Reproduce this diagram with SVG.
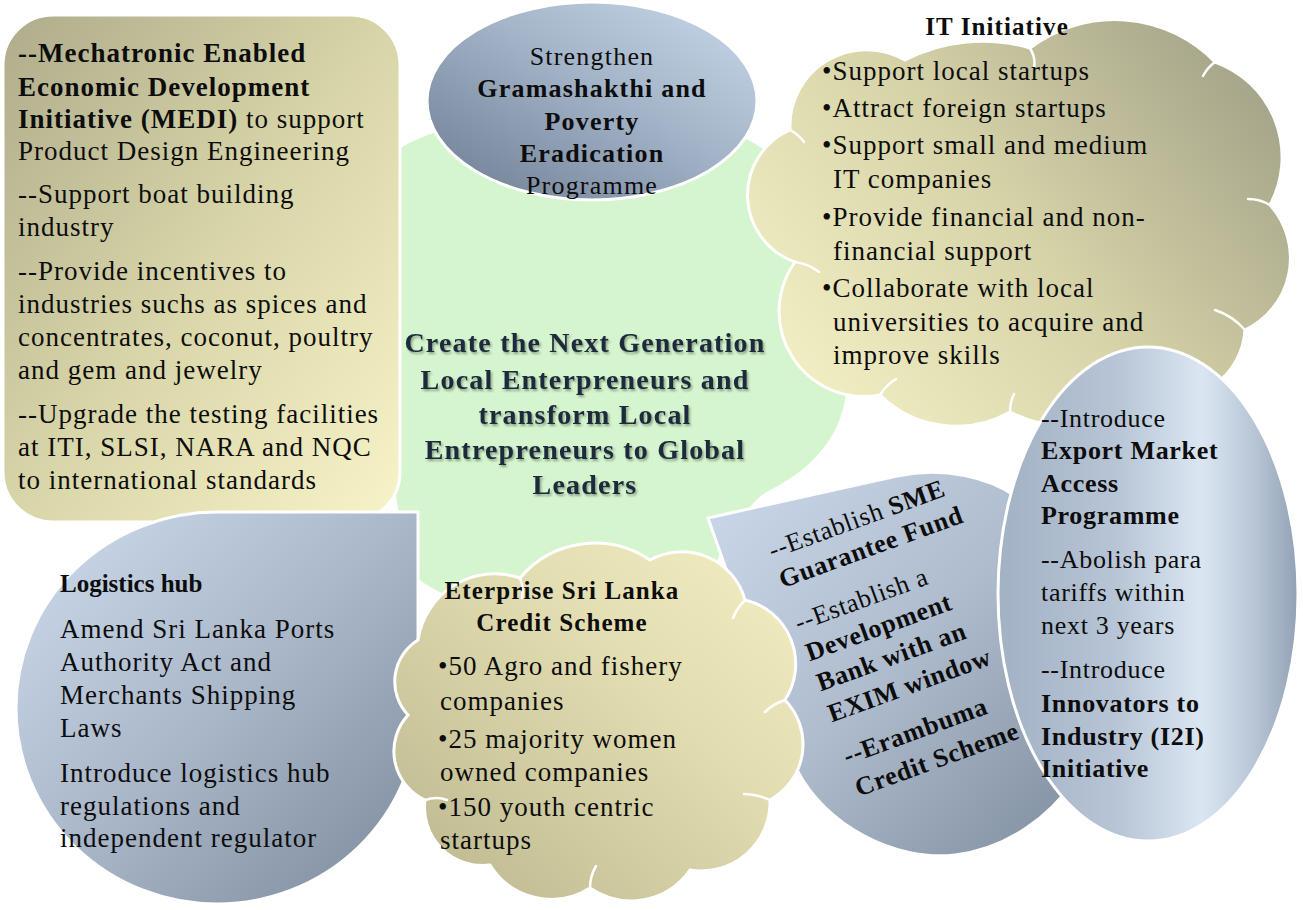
<svg xmlns="http://www.w3.org/2000/svg" width="1303" height="910" viewBox="0 0 1303 910">
<defs>
<linearGradient id="gYel" x1="0" y1="0" x2="1" y2="1">
<stop offset="0" stop-color="#aeac8b"/>
<stop offset="0.5" stop-color="#d8d5a8"/>
<stop offset="1" stop-color="#f8f4c9"/>
</linearGradient>
<linearGradient id="gTopEll" x1="0" y1="1" x2="1" y2="0">
<stop offset="0" stop-color="#6c7b8f"/>
<stop offset="0.55" stop-color="#a3b4c8"/>
<stop offset="1" stop-color="#c9d9ea"/>
</linearGradient>
<linearGradient id="gIT" x1="0" y1="0.8" x2="1" y2="0.2">
<stop offset="0" stop-color="#f4f0c5"/>
<stop offset="0.5" stop-color="#d6d3a8"/>
<stop offset="1" stop-color="#a3a288"/>
</linearGradient>
<linearGradient id="gLog" x1="0" y1="0" x2="1" y2="1">
<stop offset="0" stop-color="#cfdcee"/>
<stop offset="0.5" stop-color="#a9b7c9"/>
<stop offset="1" stop-color="#7b899b"/>
</linearGradient>
<linearGradient id="gEnt" x1="0" y1="1" x2="1" y2="0">
<stop offset="0" stop-color="#b9b48c"/>
<stop offset="0.6" stop-color="#e2ddb0"/>
<stop offset="1" stop-color="#f4efc2"/>
</linearGradient>
<linearGradient id="gSME" x1="0" y1="0" x2="1" y2="1">
<stop offset="0" stop-color="#cbd9ea"/>
<stop offset="0.5" stop-color="#aebccd"/>
<stop offset="1" stop-color="#7f8da0"/>
</linearGradient>
<linearGradient id="gExp" x1="0" y1="0" x2="1" y2="0">
<stop offset="0" stop-color="#a2b1c4"/>
<stop offset="0.4" stop-color="#b7c5d6"/>
<stop offset="0.68" stop-color="#dbe6f2"/>
<stop offset="0.86" stop-color="#b6c4d4"/>
<stop offset="1" stop-color="#92a1b5"/>
</linearGradient>
<filter id="shadow" x="-5%" y="-10%" width="115%" height="130%">
<feDropShadow dx="1.5" dy="2" stdDeviation="1.3" flood-color="#000" flood-opacity="0.35"/>
</filter>
</defs>
<style>
.shape { stroke: #ffffff; stroke-width: 3; }
.inner { fill: none; stroke: #ffffff; stroke-width: 2.5; stroke-linecap: round; }
.t { font-family: 'Liberation Serif', 'Times New Roman', serif; font-size: 27px; letter-spacing: 1px; fill: #0d0d0d; }
.s26 { font-size: 26px; letter-spacing: 0.7px; }
.ell { font-size: 26px; letter-spacing: 1.2px; }
.ent { font-size: 27px; letter-spacing: 1px; }
.ttl { font-size: 25px; letter-spacing: 1.1px; }
.lg { font-size: 25px; letter-spacing: 0px; }
.b { font-weight: bold; }
.mid { text-anchor: middle; }
.center { font-family: 'Liberation Serif', 'Times New Roman', serif; font-size: 28px; font-weight: bold; letter-spacing: 1.2px; fill: #1c2a3a; text-anchor: middle; }
</style>
<rect width="1303" height="910" fill="#ffffff"/>

<g id="center">
<path d="M398,150 C470,100 720,95 775,160 C830,225 855,330 845,400 C838,440 810,470 770,490 C740,505 720,560 700,590 C640,640 470,620 420,580 C380,540 380,200 398,150 Z" fill="#d4f5cd"/>
<g filter="url(#shadow)">
<text class="center" x="585" y="352">Create the Next Generation</text>
<text class="center" x="585" y="389">Local Enterpreneurs and</text>
<text class="center" x="585" y="424">transform Local</text>
<text class="center" x="585" y="459">Entrepreneurs to Global</text>
<text class="center" x="585" y="494">Leaders</text>
</g>
</g>

<g id="connectors"></g>

<g id="medi">
<rect class="shape" x="3" y="15" width="397" height="507" rx="50" ry="50" fill="url(#gYel)"/>
<text class="t b" x="18" y="62">--Mechatronic Enabled</text>
<text class="t b" x="18" y="96">Economic Development</text>
<text class="t" x="18" y="128"><tspan class="b">Initiative (MEDI)</tspan> to support</text>
<text class="t" x="18" y="160">Product Design Engineering</text>
<text class="t" x="18" y="203">--Support boat building</text>
<text class="t" x="18" y="236">industry</text>
<text class="t" x="18" y="280">--Provide incentives to</text>
<text class="t" x="18" y="313">industries suchs as spices and</text>
<text class="t" x="18" y="346">concentrates, coconut, poultry</text>
<text class="t" x="18" y="379">and gem and jewelry</text>
<text class="t" x="18" y="423">--Upgrade the testing facilities</text>
<text class="t" x="18" y="456">at ITI, SLSI, NARA and NQC</text>
<text class="t" x="18" y="489">to international standards</text>
</g>

<g id="gramashakthi">
<ellipse class="shape" cx="592" cy="101" rx="165" ry="99" fill="url(#gTopEll)"/>
<text class="t ell mid" x="592" y="65">Strengthen</text>
<text class="t ell mid b" x="592" y="97">Gramashakthi and</text>
<text class="t ell mid b" x="592" y="130">Poverty</text>
<text class="t ell mid b" x="592" y="162">Eradication</text>
<text class="t ell mid" x="592" y="194">Programme</text>
</g>

<g id="it-initiative">
<path class="shape" d="M790,130 A76.6,76.6 0 0 1 905,60 A170,170 0 0 1 1030,48 A140,140 0 0 1 1215,62 A101,101 0 0 1 1270,205 A79.5,79.5 0 0 1 1245,330 A73,73 0 0 1 1150,395 A124,124 0 0 1 1010,412 A108.5,108.5 0 0 1 880,395 A85,85 0 0 1 795,262 A71,71 0 0 1 790,130 Z" fill="url(#gIT)"/>
<path class="inner" d="M1030,48 q6,10 4,20 M1215,62 q-8,6 -12,14 M1270,205 q-10,-6 -22,-6 M1245,330 q-12,-14 -30,-20 M1010,412 q0,-10 4,-18 M880,395 q6,-10 16,-16 M795,262 q14,2 24,10 M790,130 q8,4 14,12"/>
<text class="t b ttl mid" x="997" y="35">IT Initiative</text>
<text class="t" x="822" y="80">•Support local startups</text>
<text class="t" x="822" y="117">•Attract foreign startups</text>
<text class="t" x="822" y="154">•Support small and medium</text>
<text class="t" x="833" y="188">IT companies</text>
<text class="t" x="822" y="226">•Provide financial and non-</text>
<text class="t" x="833" y="260">financial support</text>
<text class="t" x="822" y="297">•Collaborate with local</text>
<text class="t" x="833" y="331">universities to acquire and</text>
<text class="t" x="833" y="364">improve skills</text>
</g>

<g id="logistics">
<path class="shape" d="M217,512 L418,512 L418,708 A201,196 0 0 1 217,904 A201,196 0 0 1 16,708 A201,196 0 0 1 217,512 Z" fill="url(#gLog)"/>
<text class="t b lg" x="60" y="592">Logistics hub</text>
<text class="t" x="60" y="638">Amend Sri Lanka Ports</text>
<text class="t" x="60" y="671">Authority Act and</text>
<text class="t" x="60" y="704">Merchants Shipping</text>
<text class="t" x="60" y="737">Laws</text>
<text class="t" x="60" y="782">Introduce logistics hub</text>
<text class="t" x="60" y="815">regulations and</text>
<text class="t" x="60" y="847">independent regulator</text>
</g>

<g id="sme">
<path class="shape" d="M708,518 L897,476 C945,466 990,478 1015,496 L1075,560 L1075,780 C1050,815 1010,848 955,855 C895,862 825,825 797,770 Z" fill="url(#gSME)"/>
<g transform="rotate(-20 800 650)">
<text class="t s26" x="805" y="555">--Establish <tspan class="b">SME</tspan></text>
<text class="t s26 b" x="805" y="586">Guarantee Fund</text>
<text class="t s26" x="805" y="632">--Establish a</text>
<text class="t s26 b" x="805" y="664">Development</text>
<text class="t s26 b" x="805" y="696">Bank with an</text>
<text class="t s26 b" x="805" y="729">EXIM window</text>
<text class="t s26 b" x="805" y="774">--Erambuma</text>
<text class="t s26 b" x="805" y="808">Credit Scheme</text>
</g>
</g>

<g id="enterprise">
<path class="shape" d="M418,640 A77.6,77.6 0 0 1 520,578 A98,98 0 0 1 650,560 A65.5,65.5 0 0 1 745,600 A65.8,65.8 0 0 1 785,700 A63.5,63.5 0 0 1 770,800 A68.7,68.7 0 0 1 690,870 A72,72 0 0 1 590,888 A72,72 0 0 1 490,865 A58,58 0 0 1 425,800 A53.7,53.7 0 0 1 408,715 A48.8,48.8 0 0 1 418,640 Z" fill="url(#gEnt)"/>
<path class="inner" d="M520,578 q4,10 2,20 M745,600 q-8,8 -12,18 M785,700 q-12,4 -20,12 M770,800 q-14,-6 -26,-6 M590,888 q0,-12 6,-22 M425,800 q12,-4 22,0"/>
<text class="t b ttl mid" x="562" y="599">Eterprise Sri Lanka</text>
<text class="t b ttl mid" x="562" y="631">Credit Scheme</text>
<text class="t ent" x="438" y="675">•50 Agro and fishery</text>
<text class="t ent" x="440" y="710">companies</text>
<text class="t ent" x="438" y="748">•25 majority women</text>
<text class="t ent" x="440" y="781">owned companies</text>
<text class="t ent" x="438" y="816">•150 youth centric</text>
<text class="t ent" x="440" y="849">startups</text>
</g>

<g id="export">
<ellipse class="shape" cx="1148" cy="594" rx="150" ry="247" fill="url(#gExp)"/>
<text class="t s26" x="1041" y="427">--Introduce</text>
<text class="t s26 b" x="1041" y="459">Export Market</text>
<text class="t s26 b" x="1041" y="492">Access</text>
<text class="t s26 b" x="1041" y="524">Programme</text>
<text class="t s26" x="1041" y="568">--Abolish para</text>
<text class="t s26" x="1041" y="601">tariffs within</text>
<text class="t s26" x="1041" y="634">next 3 years</text>
<text class="t s26" x="1041" y="678">--Introduce</text>
<text class="t s26 b" x="1041" y="712">Innovators to</text>
<text class="t s26 b" x="1041" y="745">Industry (I2I)</text>
<text class="t s26 b" x="1041" y="777">Initiative</text>
</g>
</svg>
